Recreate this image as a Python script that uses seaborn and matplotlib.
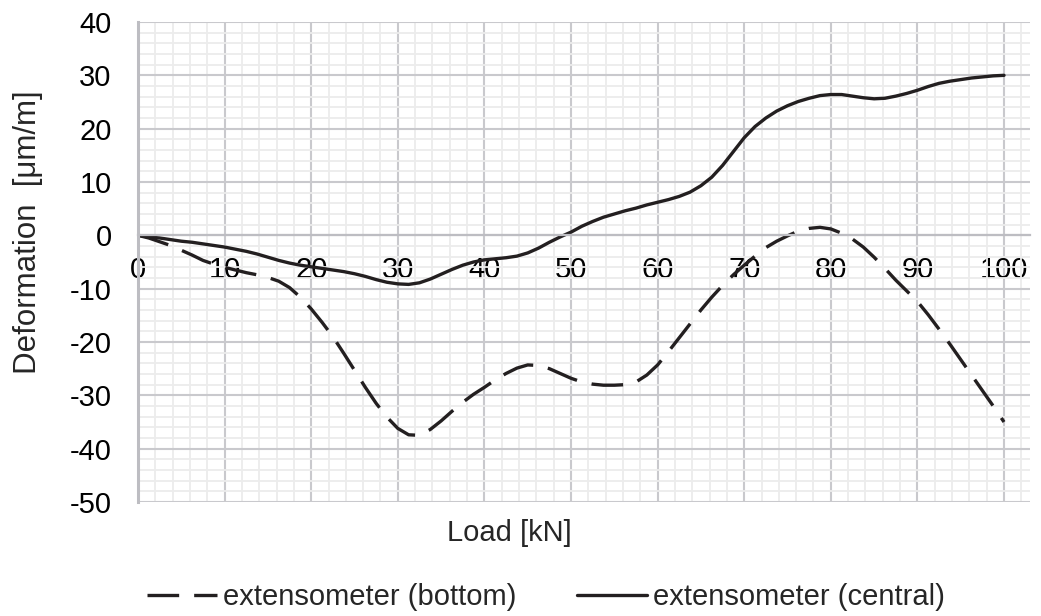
import numpy as np
import pandas as pd
import matplotlib
matplotlib.use("Agg")
import matplotlib.pyplot as plt
import seaborn as sns
from matplotlib.ticker import MultipleLocator

# Load [kN]
load = [0, 1.25, 2.5, 3.75, 5, 6.25, 7.5, 8.75, 10, 11.25, 12.5, 13.75, 15,
        16.25, 17.5, 18.75, 20, 21.25, 22.5, 23.75, 25, 26.25, 27.5, 28.75,
        30, 31.25, 32.5, 33.75, 35, 36.25, 37.5, 38.75, 40, 41.25, 42.5,
        43.75, 45, 46.25, 47.5, 48.75, 50, 51.25, 52.5, 53.75, 55, 56.25,
        57.5, 58.75, 60, 61.25, 62.5, 63.75, 65, 66.25, 67.5, 68.75, 70,
        71.25, 72.5, 73.75, 75, 76.25, 77.5, 78.75, 80, 81.25, 82.5, 83.75,
        85, 86.25, 87.5, 88.75, 90, 91.25, 92.5, 93.75, 95, 96.25, 97.5,
        98.75, 100]

# extensometer (bottom) [um/m]
bottom = [0, -0.5, -1.2, -1.9, -2.8, -3.7, -4.7, -5.4, -6.0, -6.5, -7.0, -7.4,
          -7.9, -8.6, -9.8, -11.6, -13.8, -16.3, -19.0, -22.1, -25.3, -28.5,
          -31.5, -34.1, -36.2, -37.4, -37.5, -36.4, -34.8, -33.0, -31.3, -29.8,
          -28.5, -27.1, -25.9, -24.9, -24.3, -24.4, -25.0, -25.9, -26.8, -27.5,
          -27.9, -28.1, -28.1, -28.0, -27.5, -26.2, -24.3, -21.8, -19.2, -16.6,
          -14.0, -11.6, -9.4, -7.4, -5.6, -3.9, -2.3, -1.1, -0.1, 0.8, 1.3,
          1.5, 1.2, 0.4, -0.7, -2.2, -4.1, -6.2, -8.4, -10.4, -12.4, -14.9,
          -17.6, -20.4, -23.3, -26.2, -29.1, -32.0, -35.0]

# extensometer (central) [um/m]
central = [0, -0.3, -0.5, -0.8, -1.1, -1.3, -1.6, -1.9, -2.2, -2.6, -3.0, -3.5,
           -4.1, -4.7, -5.2, -5.6, -5.9, -6.2, -6.5, -6.8, -7.2, -7.7, -8.3,
           -8.8, -9.1, -9.2, -8.9, -8.2, -7.3, -6.4, -5.6, -5.0, -4.6, -4.4,
           -4.2, -3.9, -3.3, -2.4, -1.3, -0.3, 0.6, 1.7, 2.6, 3.4, 4.0, 4.6,
           5.1, 5.7, 6.2, 6.7, 7.3, 8.1, 9.3, 10.9, 13.1, 15.7, 18.3, 20.4,
           22.0, 23.3, 24.3, 25.1, 25.7, 26.2, 26.4, 26.4, 26.1, 25.8, 25.6,
           25.7, 26.1, 26.6, 27.2, 27.9, 28.5, 28.9, 29.2, 29.5, 29.7, 29.9,
           30.0]

x_ticks = [0, 10, 20, 30, 40, 50, 60, 70, 80, 90, 100]
y_ticks = [-50, -40, -30, -20, -10, 0, 10, 20, 30, 40]

label_bottom = "extensometer (bottom)"
label_central = "extensometer (central)"

df = pd.DataFrame({"load": load, "bottom": bottom, "central": central})

sns.set_style("white")
plt.rcParams["font.family"] = ["Liberation Sans", "DejaVu Sans"]

FS = 21
line_color = "#231f20"
major_c = "#c9c9cd"
minor_c = "#ececec"

fig = plt.figure(figsize=(10.41, 6.16), dpi=100)
ax = fig.add_axes([138 / 1041, 1 - 502 / 616, (1030 - 138) / 1041, (502 - 22) / 616])

sns.lineplot(data=df, x="load", y="bottom", ax=ax, color=line_color, lw=2.4,
             label=label_bottom)
sns.lineplot(data=df, x="load", y="central", ax=ax, color=line_color, lw=2.4,
             label=label_central)
ax.lines[0].set_dashes((9.5, 4.5))

ax.set_xlim(0, 103)
ax.set_ylim(-50, 40)
ax.set_xticks(x_ticks)
ax.set_yticks(y_ticks)
ax.xaxis.set_minor_locator(MultipleLocator(2))
ax.yaxis.set_minor_locator(MultipleLocator(2))
ax.grid(which="minor", color=minor_c, lw=1.3, zorder=0)
ax.grid(which="major", color=major_c, lw=1.5, zorder=0)
ax.set_axisbelow(True)

for s in ["top", "right"]:
    ax.spines[s].set_visible(False)
ax.spines["bottom"].set_position(("data", 0))
ax.spines["bottom"].set_color("#bdbdc2")
ax.spines["bottom"].set_linewidth(1.6)
ax.spines["left"].set_color("#bdbdc2")
ax.spines["left"].set_linewidth(2.2)

ax.tick_params(axis="x", which="major", direction="out", length=5, width=1.5,
               color="#bdbdc2", pad=10, labelsize=FS, labelcolor="black")
ax.tick_params(axis="y", which="major", direction="out", length=7, width=1.5,
               color="#bdbdc2", pad=12, labelsize=FS, labelcolor="black")
ax.tick_params(which="minor", length=0)
ax.set_yticklabels([str(v) for v in y_ticks])
ax.set_xticklabels([str(v) for v in x_ticks])

ax.set_xlabel("Load [kN]", fontsize=FS)
ax.xaxis.set_label_coords((509 - 138) / 892, (502 - 533) / 480)
ax.xaxis.label.set_va("center")
ax.set_ylabel("Deformation  [\u03bcm/m]", fontsize=22.5)
ax.yaxis.set_label_coords((28 - 138) / 892, (502 - 232) / 480)
ax.yaxis.label.set_va("center")

leg = ax.legend(loc="center", bbox_to_anchor=(546 / 1041, 1 - 597 / 616),
                bbox_transform=fig.transFigure, ncol=2, frameon=False,
                fontsize=FS, handlelength=2.4, handletextpad=0.2,
                columnspacing=2.1, borderaxespad=0)

fig.savefig("out.png", dpi=100)
